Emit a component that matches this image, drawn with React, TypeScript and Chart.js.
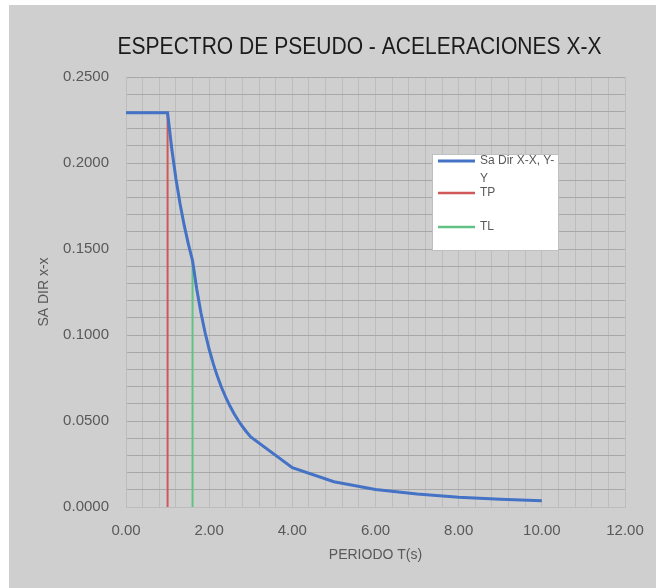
import { useEffect, useRef } from "react";
import { Chart, registerables } from "chart.js";

Chart.register(...registerables);

// Periodo T (s) y pseudo-aceleración Sa (g)
const periods = [
  0.0, 0.1, 0.2, 0.3, 0.4, 0.5, 0.6, 0.7, 0.8, 0.9, 1.0,
  1.1, 1.2, 1.3, 1.4, 1.5, 1.6, 1.7, 1.8, 1.9, 2.0,
  2.1, 2.2, 2.3, 2.4, 2.5, 2.6, 2.7, 2.8, 2.9, 3.0,
  4.0, 5.0, 6.0, 7.0, 8.0, 9.0, 10.0,
];
const saValues = [
  0.2292, 0.2292, 0.2292, 0.2292, 0.2292, 0.2292, 0.2292, 0.2292, 0.2292, 0.2292, 0.2292,
  0.2084, 0.191, 0.1763, 0.1637, 0.1528, 0.1433, 0.1269, 0.1132, 0.1016, 0.0917,
  0.0832, 0.0758, 0.0693, 0.0637, 0.0587, 0.0542, 0.0503, 0.0468, 0.0436, 0.0407,
  0.0229, 0.0147, 0.0102, 0.0075, 0.0057, 0.0045, 0.0037,
];

// Líneas verticales de los periodos TP y TL
const tpX = [1.0, 1.0];
const tpY = [0, 0.2292];
const tlX = [1.6, 1.6];
const tlY = [0, 0.1433];

const seriesLabels = ["Sa Dir X-X, Y-Y", "TP", "TL"];
const seriesColors = ["#4472c4", "#d05858", "#62c285"];

const chartTitle = "ESPECTRO DE PSEUDO - ACELERACIONES X-X";
const xTitle = "PERIODO T(s)";
const yTitle = "SA DIR x-x";

const xMin = 0, xMax = 12, xMajor = 2, xMinor = 0.4;
const yMin = 0, yMax = 0.25, yMajor = 0.05, yMinor = 0.01;

const BG = "#d0cfd0";
const TEXT = "#595959";
const FONT = "'Liberation Sans', Arial, sans-serif";
const TITLE_FONT = "23px 'Liberation Sans Narrow', 'Liberation Sans', Arial, sans-serif";
const TITLE_WIDTH = 484;

const toPoints = (xs: number[], ys: number[]) => xs.map((x, i) => ({ x, y: ys[i] }));

// split a legend label so each line fits, breaking after spaces or hyphens
function wrapLabel(ctx: CanvasRenderingContext2D, text: string, maxWidth: number): string[] {
  const lines: string[] = [];
  let rest = text;
  while (ctx.measureText(rest).width > maxWidth) {
    let cut = -1;
    for (let i = rest.length - 1; i > 0; i--) {
      const ch = rest[i - 1];
      if ((ch === " " || ch === "-") && ctx.measureText(rest.slice(0, i)).width <= maxWidth) {
        cut = i;
        break;
      }
    }
    if (cut < 0) break;
    lines.push(rest.slice(0, cut).trimEnd());
    rest = rest.slice(cut).trimStart();
  }
  lines.push(rest);
  return lines;
}

// condensed chart title
const condensedTitle = {
  id: "condensedTitle",
  afterDraw(chart: any) {
    const ctx: CanvasRenderingContext2D = chart.ctx;
    ctx.save();
    ctx.font = TITLE_FONT;
    ctx.fillStyle = "#1b1b1b";
    ctx.textAlign = "center";
    ctx.textBaseline = "middle";
    const w = ctx.measureText(chartTitle).width;
    const sx = Math.min(1, TITLE_WIDTH / w);
    const cx = (chart.chartArea.left + chart.chartArea.right) / 2 - 16;
    ctx.translate(cx, 43);
    ctx.scale(sx, 1);
    ctx.fillText(chartTitle, 0, 0);
    ctx.restore();
  },
};

const boxLegend = {
  id: "boxLegend",
  afterDraw(chart: any) {
    const ctx: CanvasRenderingContext2D = chart.ctx;
    const { left, top } = chart.chartArea;
    const bx = left + 306;
    const by = top + 77;
    const bw = 127;
    const bh = 97;
    ctx.save();
    ctx.fillStyle = "#ffffff";
    ctx.fillRect(bx, by, bw, bh);
    ctx.strokeStyle = "#bfbfbf";
    ctx.lineWidth = 1;
    ctx.strokeRect(bx + 0.5, by + 0.5, bw - 1, bh - 1);

    ctx.font = `12px ${FONT}`;
    ctx.textBaseline = "middle";
    ctx.textAlign = "left";
    const rowY = [by + 7, by + 39, by + 73];
    seriesLabels.forEach((label, i) => {
      const y = rowY[i];
      ctx.strokeStyle = seriesColors[i];
      ctx.lineWidth = i === 0 ? 3 : 2.5;
      ctx.beginPath();
      ctx.moveTo(bx + 6, y);
      ctx.lineTo(bx + 43, y);
      ctx.stroke();
      ctx.fillStyle = TEXT;
      const lines = wrapLabel(ctx, label, 78);
      lines.forEach((ln, j) => ctx.fillText(ln, bx + 48, y + j * 18));
    });
    ctx.restore();
  },
};

export default function App() {
  const canvasRef = useRef<HTMLCanvasElement | null>(null);

  useEffect(() => {
    if (!canvasRef.current) return;
    const chart = new Chart(canvasRef.current, {
      type: "line",
      data: {
        datasets: [
          {
            label: seriesLabels[0],
            data: toPoints(periods, saValues),
            borderColor: seriesColors[0],
            borderWidth: 3,
            pointRadius: 0,
            tension: 0,
          },
          {
            label: seriesLabels[1],
            data: toPoints(tpX, tpY),
            borderColor: seriesColors[1],
            borderWidth: 2,
            pointRadius: 0,
          },
          {
            label: seriesLabels[2],
            data: toPoints(tlX, tlY),
            borderColor: seriesColors[2],
            borderWidth: 2,
            pointRadius: 0,
          },
        ],
      },
      options: {
        responsive: false,
        animation: false,
        layout: { padding: { left: 0, right: 31, top: 72, bottom: 0 } },
        plugins: {
          legend: { display: false },
          tooltip: { enabled: false },
          title: { display: false },
        },
        scales: {
          x: {
            type: "linear",
            min: xMin,
            max: xMax,
            afterFit: (scale: any) => {
              scale.height = 81;
              scale.paddingRight = 0;
              scale.paddingLeft = 0;
            },
            ticks: {
              stepSize: xMinor,
              autoSkip: false,
              maxRotation: 0,
              padding: 15,
              color: TEXT,
              font: { family: FONT, size: 15 },
              callback: (v: any) => {
                const n = Number(v);
                return Math.round(n * 10) % Math.round(xMajor * 10) === 0 ? n.toFixed(2) : "";
              },
            },
            grid: { color: "#bdbdbd", lineWidth: 1, drawTicks: false },
            border: { color: "#bdbdbd" },
            title: {
              display: true,
              text: xTitle,
              color: TEXT,
              font: { family: FONT, size: 14 },
              padding: { top: 0, bottom: 24 },
            },
          },
          y: {
            type: "linear",
            min: yMin,
            max: yMax,
            afterFit: (scale: any) => {
              scale.width = 117;
            },
            ticks: {
              stepSize: yMinor,
              autoSkip: false,
              padding: 17,
              color: TEXT,
              font: { family: FONT, size: 15 },
              callback: (v: any) => {
                const n = Number(v);
                return Math.round(n * 100) % Math.round(yMajor * 100) === 0 ? n.toFixed(4) : "";
              },
            },
            grid: { color: "#a8a8a8", lineWidth: 1, drawTicks: false },
            border: { color: "#bdbdbd" },
            title: {
              display: true,
              text: yTitle,
              color: TEXT,
              font: { family: FONT, size: 14 },
              padding: { top: 27, bottom: 0 },
            },
          },
        },
      },
      plugins: [condensedTitle, boxLegend],
    });
    return () => chart.destroy();
  }, []);

  return (
    <div
      style={{
        position: "fixed",
        left: 9,
        top: 5,
        width: 647,
        height: 583,
        background: BG,
      }}
    >
      <canvas ref={canvasRef} width={647} height={583} style={{ display: "block" }} />
    </div>
  );
}
